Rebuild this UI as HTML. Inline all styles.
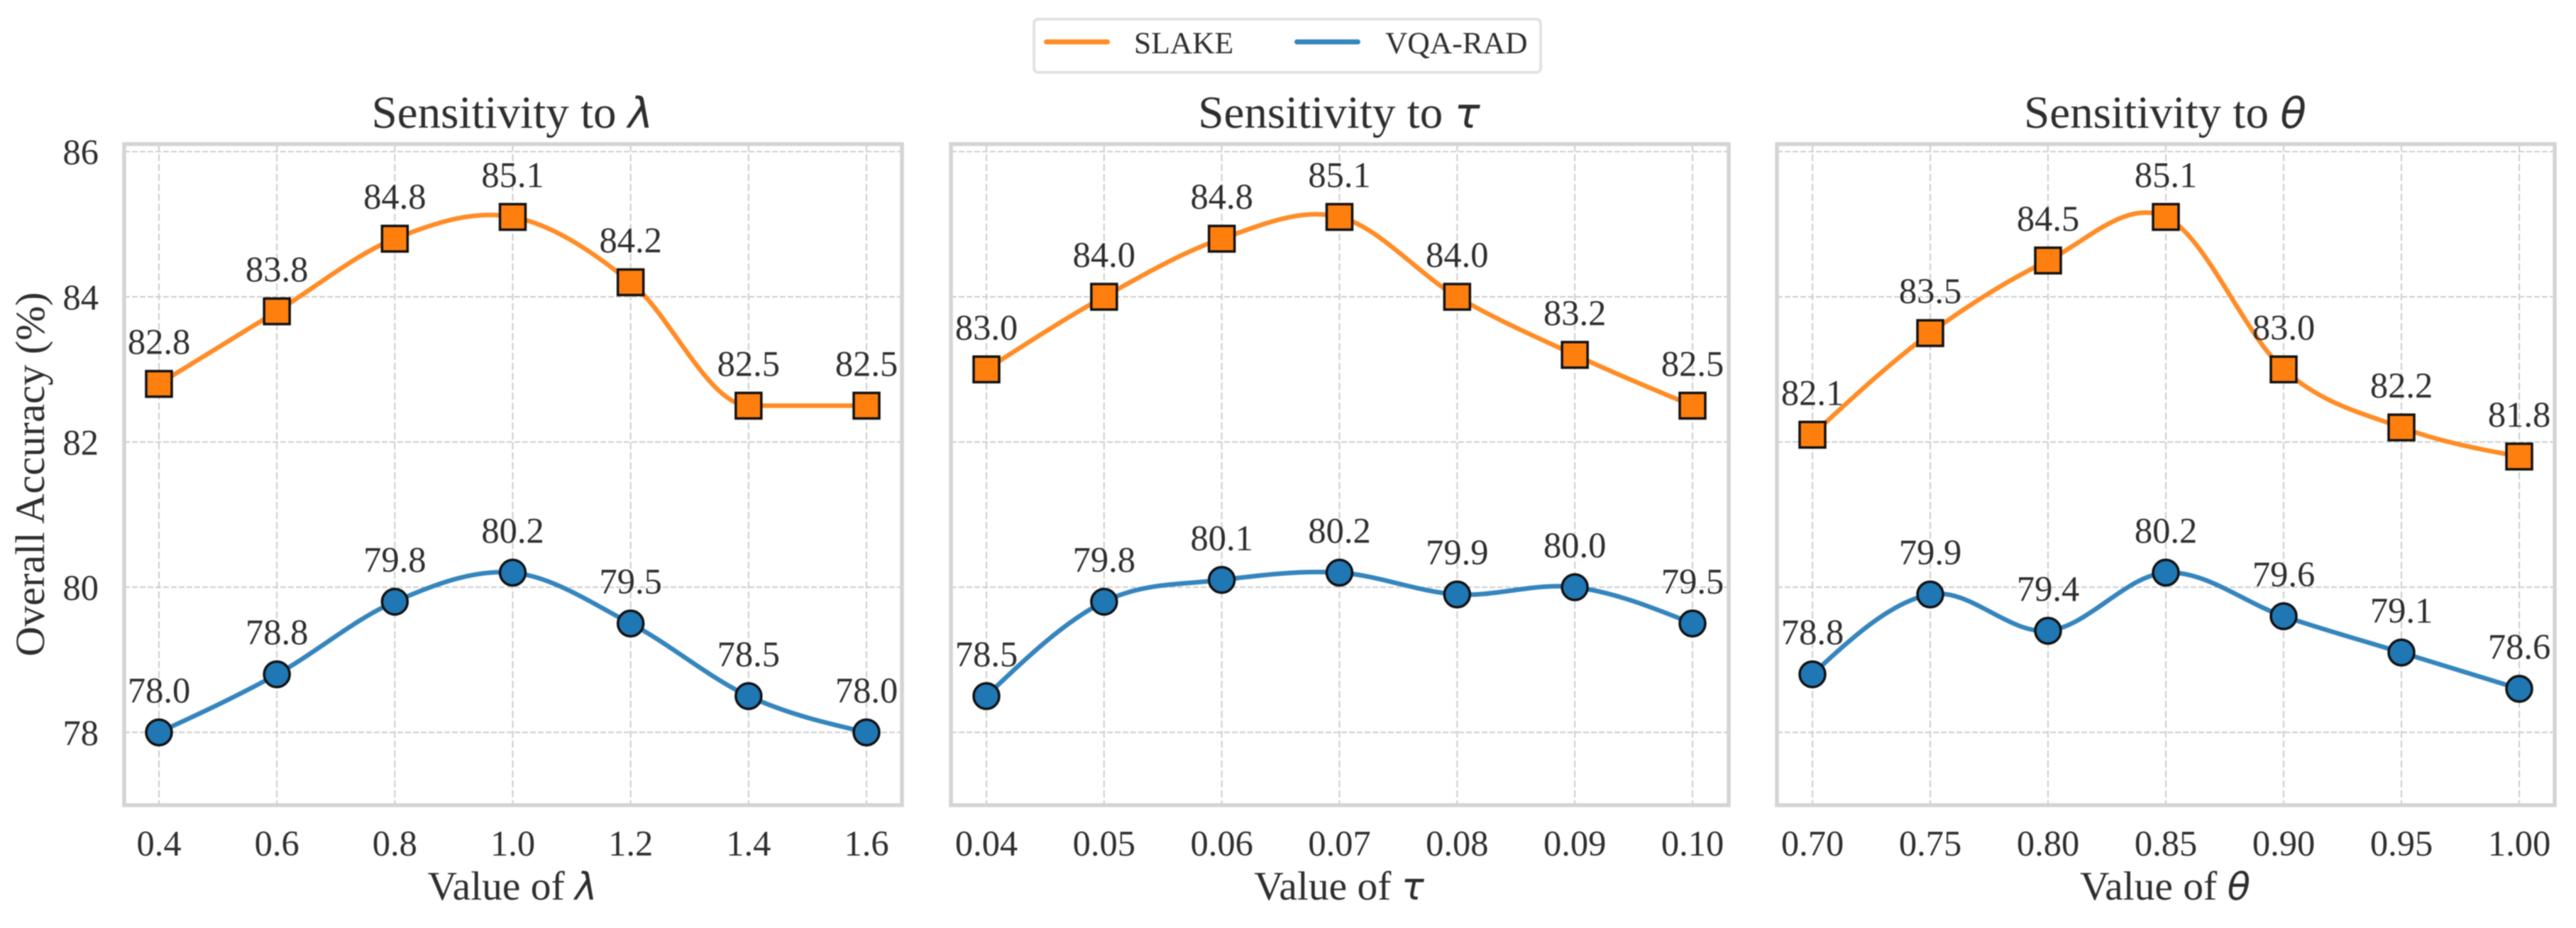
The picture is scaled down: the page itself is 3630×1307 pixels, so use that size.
<!DOCTYPE html>
<html lang="en">
<head>
<meta charset="utf-8">
<title>Sensitivity charts</title>
<style>
html,body{margin:0;padding:0;background:#fff;width:3630px;height:1307px;overflow:hidden}
svg{display:block;font-family:"Liberation Serif","DejaVu Serif",serif;fill:#2e2e2e;filter:blur(0.7px)}
.sym{font-family:"DejaVu Sans",sans-serif;font-style:italic}
</style>
</head>
<body>
<svg id="chart" xmlns="http://www.w3.org/2000/svg" width="3630" height="1307" viewBox="0 0 3630 1307">
  <g>
    <rect x="1457" y="27" width="714" height="75" rx="6" fill="#fff" stroke="#e2e2e2" stroke-width="4"/>
    <g>
      <line x1="1474.5" y1="59" x2="1560.5" y2="59" stroke="#ff8c26" stroke-width="7" stroke-linecap="round"/>
      <text x="1598" y="75" font-size="43.5">SLAKE</text>
    </g>
    <g>
      <line x1="1827.5" y1="59" x2="1913.5" y2="59" stroke="#3585bd" stroke-width="7" stroke-linecap="round"/>
      <text x="1952" y="75" font-size="43.5">VQA-RAD</text>
    </g>
  </g>
  <text transform="translate(62,668) rotate(-90)" text-anchor="middle" font-size="58.5">Overall Accuracy (%)</text>
  <g id="p0"></g>
  <g id="p1"></g>
  <g id="p2"></g>
</svg>
<script>
// Shared y axis
const yTicks = [78, 80, 82, 84, 86];

// Sensitivity to lambda
const lambdaValues = [0.4, 0.6, 0.8, 1.0, 1.2, 1.4, 1.6];
const lambdaLabels = ['0.4', '0.6', '0.8', '1.0', '1.2', '1.4', '1.6'];
const lambdaSlake = [82.8, 83.8, 84.8, 85.1, 84.2, 82.5, 82.5];
const lambdaVqa = [78.0, 78.8, 79.8, 80.2, 79.5, 78.5, 78.0];

// Sensitivity to tau
const tauValues = [0.04, 0.05, 0.06, 0.07, 0.08, 0.09, 0.10];
const tauLabels = ['0.04', '0.05', '0.06', '0.07', '0.08', '0.09', '0.10'];
const tauSlake = [83.0, 84.0, 84.8, 85.1, 84.0, 83.2, 82.5];
const tauVqa = [78.5, 79.8, 80.1, 80.2, 79.9, 80.0, 79.5];

// Sensitivity to theta
const thetaValues = [0.70, 0.75, 0.80, 0.85, 0.90, 0.95, 1.00];
const thetaLabels = ['0.70', '0.75', '0.80', '0.85', '0.90', '0.95', '1.00'];
const thetaSlake = [82.1, 83.5, 84.5, 85.1, 83.0, 82.2, 81.8];
const thetaVqa = [78.8, 79.9, 79.4, 80.2, 79.6, 79.1, 78.6];

const NS = 'http://www.w3.org/2000/svg';
const TOP = 203, BOTTOM = 1134;
const yScale = v => 213.5 + (86 - v) * 102.25;

function make(tag, parent, props, text) {
  const el = document.createElementNS(NS, tag);
  for (const k in props) el.setAttribute(k, props[k]);
  if (text !== undefined) el.textContent = text;
  parent.appendChild(el);
  return el;
}

// Smooth curve through the data points (cubic Hermite)
function curvePath(xs, ys, xScale) {
  const n = xs.length;
  const sl = [];
  for (let i = 0; i < n - 1; i++) sl.push((ys[i + 1] - ys[i]) / (xs[i + 1] - xs[i]));
  const m = new Array(n).fill(0);
  for (let i = 1; i < n - 1; i++) {
    m[i] = (sl[i - 1] === 0 || sl[i] === 0) ? 0 : (sl[i - 1] + sl[i]) / 2;
  }
  m[0] = (3 * sl[0] - m[1]) / 2;
  m[n - 1] = (3 * sl[n - 2] - m[n - 2]) / 2;
  let d = 'M' + xScale(xs[0]).toFixed(2) + ' ' + yScale(ys[0]).toFixed(2);
  for (let i = 0; i < n - 1; i++) {
    const h = xs[i + 1] - xs[i];
    const c1x = xScale(xs[i] + h / 3), c1y = yScale(ys[i] + m[i] * h / 3);
    const c2x = xScale(xs[i + 1] - h / 3), c2y = yScale(ys[i + 1] - m[i + 1] * h / 3);
    d += 'C' + c1x.toFixed(2) + ' ' + c1y.toFixed(2) + ' ' + c2x.toFixed(2) + ' ' + c2y.toFixed(2) + ' ' + xScale(xs[i + 1]).toFixed(2) + ' ' + yScale(ys[i + 1]).toFixed(2);
  }
  return d;
}

function drawPanel(root, left, right, firstPx, lastPx, xs, labels, slake, vqa, symbol, showY) {
  const xScale = v => firstPx + (v - xs[0]) / (xs[xs.length - 1] - xs[0]) * (lastPx - firstPx);
  const cx = (left + right) / 2 - 1;

  const grid = make('g', root, { stroke: '#cdcdcd', 'stroke-width': 2, 'stroke-dasharray': '8 3' });
  
  
  yTicks.forEach(t => {
    const gl = make('line', grid, { x1: left, x2: right, y1: yScale(t), y2: yScale(t) });
    
    
  });
  xs.forEach(v => {
    const gl = make('line', grid, { x1: xScale(v), x2: xScale(v), y1: TOP, y2: BOTTOM, 'stroke-dasharray': '10 4' });
    
    
  });

  const frame = make('rect', root, { x: left, y: TOP, width: right - left, height: BOTTOM - TOP, fill: 'none', stroke: '#d4d4d4', 'stroke-width': 5.5 });
  
  

  const title = make('text', root, { x: cx, y: 180, 'text-anchor': 'middle', 'font-size': 65 }, 'Sensitivity to ');
  
  
  make('tspan', title, { class: 'sym', 'font-size': 60 }, symbol);

  const xTitle = make('text', root, { x: cx, y: 1267, 'text-anchor': 'middle', 'font-size': 57.5 }, 'Value of ');
  
  
  make('tspan', xTitle, { class: 'sym', 'font-size': 53 }, symbol);

  xs.forEach((v, i) => {
    const tl = make('text', root, { x: xScale(v), y: 1205, 'text-anchor': 'middle', 'font-size': 50.5 }, labels[i]);
    
    
  });
  if (showY) {
    yTicks.forEach(t => {
      const tl = make('text', root, { x: 139, y: yScale(t) + 18, 'text-anchor': 'end', 'font-size': 50.5 }, String(t));
      
      
    });
  }

  const slakeLine = make('path', root, { d: curvePath(xs, slake, xScale), fill: 'none', stroke: '#ff8c26', 'stroke-width': 6.5, 'stroke-linejoin': 'round' });
  
  
  const vqaLine = make('path', root, { d: curvePath(xs, vqa, xScale), fill: 'none', stroke: '#3585bd', 'stroke-width': 6.5, 'stroke-linejoin': 'round' });
  
  

  xs.forEach((v, i) => {
    const px = xScale(v);
    const py = yScale(slake[i]);
    const sq = make('rect', root, { x: px - 18, y: py - 18, width: 36, height: 36, fill: '#ff7f0e', stroke: '#111', 'stroke-width': 3.5 });
    
    
    const lab = make('text', root, { x: px, y: py - 42, 'text-anchor': 'middle', 'font-size': 50.5 }, slake[i].toFixed(1));
    
    
  });
  xs.forEach((v, i) => {
    const px = xScale(v);
    const py = yScale(vqa[i]);
    const dot = make('circle', root, { cx: px, cy: py, r: 18, fill: '#1f77b4', stroke: '#111', 'stroke-width': 3.5 });
    
    
    const lab = make('text', root, { x: px, y: py - 42, 'text-anchor': 'middle', 'font-size': 50.5 }, vqa[i].toFixed(1));
    
    
  });
}

drawPanel(document.getElementById('p0'), 175, 1271, 224, 1221, lambdaValues, lambdaLabels, lambdaSlake, lambdaVqa, 'λ', true);
drawPanel(document.getElementById('p1'), 1340, 2436, 1390, 2385, tauValues, tauLabels, tauSlake, tauVqa, 'τ', false);
drawPanel(document.getElementById('p2'), 2504, 3600, 2554, 3550, thetaValues, thetaLabels, thetaSlake, thetaVqa, 'θ', false);
</script>
</body>
</html>
